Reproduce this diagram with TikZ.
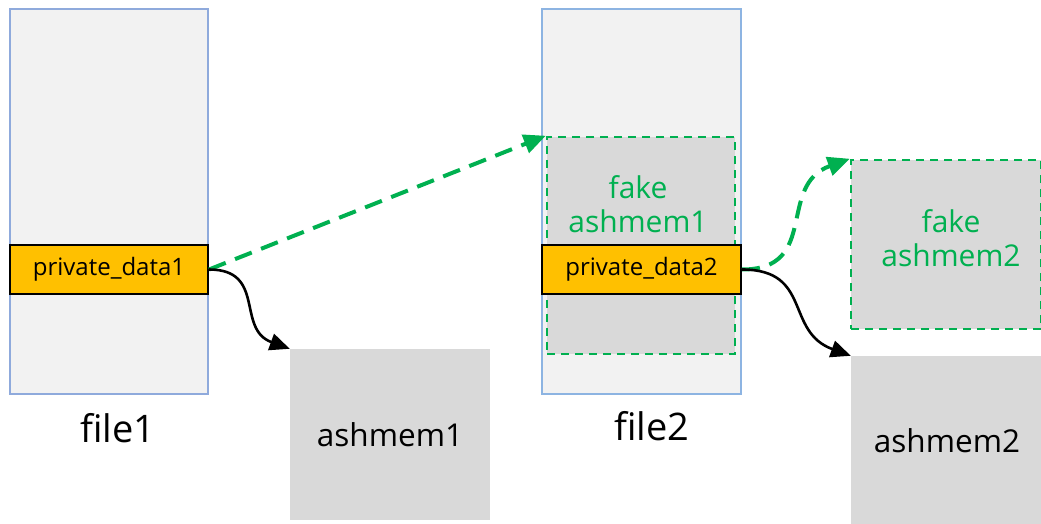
\documentclass[tikz,border=0pt]{standalone}
\usepackage{fontspec}
\setmainfont{Open Sans}
\usetikzlibrary{arrows.meta}
\definecolor{filefill}{RGB}{242,242,242}
\definecolor{fileedgeA}{RGB}{143,170,220}
\definecolor{fileedgeB}{RGB}{141,180,226}
\definecolor{privfill}{RGB}{255,192,0}
\definecolor{memfill}{RGB}{217,217,217}
\definecolor{fakegreen}{RGB}{0,176,80}
\tikzset{
  filebox/.style={draw=#1, line width=2pt, fill=filefill, inner sep=0pt},
  privbox/.style={draw=black, line width=2pt, fill=privfill, inner sep=0pt,
    font=\fontsize{24}{28}\selectfont},
  membox/.style={fill=memfill, inner sep=0pt, font=\fontsize{31.5}{36}\selectfont},
  fakebox/.style={fill=memfill, draw=fakegreen, line width=2.5pt,
    dash pattern=on 8pt off 6pt, inner sep=0pt},
  fakelabel/.style={text=fakegreen, align=center, font=\fontsize{30}{34}\selectfont},
  filelabel/.style={font=\fontsize{38}{42}\selectfont},
  ptrarrow/.style={line width=2.6pt, -{Triangle[length=20pt,width=17pt]}},
  fakearrow/.style={line width=4pt, draw=fakegreen, dash pattern=on 18pt off 10pt,
    -{Triangle[length=22pt,width=19pt]}},
}
\begin{document}
\begin{tikzpicture}[x=1pt,y=-1pt]
\useasboundingbox (0,0) rectangle (1041,524);

% file1 and its private data slot
\node[filebox=fileedgeA, minimum width=198pt, minimum height=385pt] (file1) at (109,201.5) {};
\node[privbox, minimum width=198pt, minimum height=49pt] (pd1) at (109,269.5) {private\_data1};
\node[filelabel] (file1lbl) at (118,428) {file1};

% ashmem1
\node[membox, minimum width=200pt, minimum height=171pt] (ash1) at (390,434.5) {ashmem1};

% file2 with the fake ashmem1 placed inside it
\node[filebox=fileedgeB, minimum width=199pt, minimum height=385pt] (file2) at (641.5,201.5) {};
\node[fakebox, minimum width=188pt, minimum height=217pt] (fake1) at (641,245.5) {};
\node[fakelabel] (fake1lbl) at (638,204) {fake\\ashmem1};
\node[privbox, minimum width=199pt, minimum height=49pt] (pd2) at (641.5,269.5) {private\_data2};
\node[filelabel] (file2lbl) at (652,426) {file2};

% fake ashmem2 and ashmem2
\node[fakebox, minimum width=190pt, minimum height=169pt] (fake2) at (946,244.5) {};
\node[fakelabel] (fake2lbl) at (951,238) {fake\\ashmem2};
\node[membox, minimum width=192pt, minimum height=170pt] (ash2) at (947,441) {ashmem2};

% pointers
\coordinate (pd1o) at (pd1.east);
\coordinate (pd2o) at (pd2.east);
\draw[fakearrow] (pd1o) -- (fake1.north west);
\draw[ptrarrow] (pd1o) to[out=0,in=160,looseness=1.3] (ash1.north west);
\draw[fakearrow] (pd2o) to[out=0,in=200,looseness=1.3] (fake2.north west);
\draw[ptrarrow] (pd2o) to[out=0,in=160,looseness=1.3] (ash2.north west);
\end{tikzpicture}
\end{document}
